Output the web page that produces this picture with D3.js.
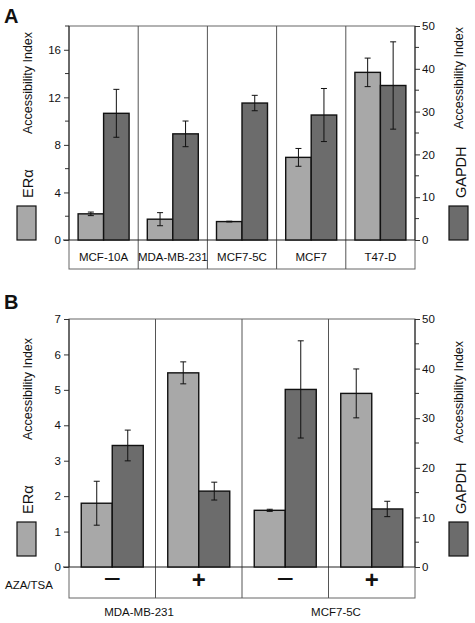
<!DOCTYPE html>
<html><head><meta charset="utf-8">
<script src="https://cdn.jsdelivr.net/npm/d3@7"></script>
<style>
body{margin:0;background:#fff;}
text{font-family:"Liberation Sans",Arial,Helvetica,sans-serif;fill:#111;}
</style></head>
<body><svg id="c" width="475" height="623"></svg>
<script>
// ---- Data ----
const seriesNames = ["ERα", "GAPDH"];
// Panel A
const catsA = ["MCF-10A", "MDA-MB-231", "MCF7-5C", "MCF7", "T47-D"];
const erA = [2.2, 1.75, 1.55, 6.95, 14.1];          // left axis
const erAErr = [0.15, 0.55, 0.03, 0.75, 1.2];
const gapA = [29.6, 24.8, 32.0, 29.2, 36.1];        // right axis
const gapAErr = [5.6, 3.0, 1.8, 6.2, 10.2];
const leftTicksA = [0, 4, 8, 12, 16];
const leftMinorA = [2, 6, 10, 14, 18];
const rightTicksA = [0, 10, 20, 30, 40, 50];
const rightMinorA = [5, 15, 25, 35, 45];
// Panel B
const catsB = ["MDA − ", "MDA + ", "5C − ", "5C + "];
const treatB = ["−", "+", "−", "+"];
const cellLinesB = ["MDA-MB-231", "MCF7-5C"];
const erB = [1.8, 5.48, 1.6, 4.9];
const erBErr = [0.62, 0.31, 0.03, 0.69];
const gapB = [24.5, 15.3, 35.8, 11.7];
const gapBErr = [3.1, 1.8, 9.8, 1.55];
const leftTicksB = [0, 1, 2, 3, 4, 5, 6, 7];
const rightTicksB = [0, 10, 20, 30, 40, 50];
const rightMinorB = [5, 15, 25, 35, 45];

const colors = {"ERα": "#a8a8a8", "GAPDH": "#6c6c6c"};
const svg = d3.select("#c");

function panel(o) {
  const g = svg.append("g");
  const x = d3.scaleBand().domain(o.cats).range([o.x0, o.x1]).padding(0);
  const xi = d3.scaleBand().domain(seriesNames).range([0, x.bandwidth()]).paddingInner(0).paddingOuter(o.pOuter);
  const yL = d3.scaleLinear().domain([0, o.leftMax]).range([o.y0, o.yTop]);
  const yR = d3.scaleLinear().domain([0, 50]).range([o.y0, o.yTop]);

  // box + dividers
  g.append("rect").attr("x", o.x0).attr("y", o.yTop).attr("width", o.x1 - o.x0).attr("height", o.yBot - o.yTop)
    .attr("fill", "none").attr("stroke", "#666").attr("stroke-width", 1);
  o.cats.slice(1).forEach(c => {
    g.append("line").attr("x1", x(c)).attr("x2", x(c)).attr("y1", o.yTop).attr("y2", o.yBot)
      .attr("stroke", "#555").attr("stroke-width", 1);
  });
  g.append("line").attr("x1", o.x0 - 6).attr("x2", o.x1).attr("y1", o.y0).attr("y2", o.y0).attr("stroke", "#222").attr("stroke-width", 1);

  // bars
  o.cats.forEach((c, i) => {
    const vals = [{s: "ERα", v: o.er[i], e: o.erErr[i], sc: yL}, {s: "GAPDH", v: o.gap[i], e: o.gapErr[i], sc: yR}];
    vals.forEach(d => {
      const bx = x(c) + xi(d.s);
      g.append("rect").attr("x", bx).attr("y", d.sc(d.v)).attr("width", xi.bandwidth()).attr("height", o.y0 - d.sc(d.v))
        .attr("fill", colors[d.s]).attr("stroke", "#111").attr("stroke-width", 1.4);
      const cx = bx + xi.bandwidth() / 2;
      const yt = d.sc(d.v + d.e), yb = d.sc(d.v - d.e);
      g.append("line").attr("x1", cx).attr("x2", cx).attr("y1", yt).attr("y2", yb).attr("stroke", "#111").attr("stroke-width", 1);
      [yt, yb].forEach(yy => g.append("line").attr("x1", cx - 3).attr("x2", cx + 3).attr("y1", yy).attr("y2", yy).attr("stroke", "#111").attr("stroke-width", 1));
    });
  });

  // left axis
  const la = g.append("g").attr("transform", `translate(${o.x0},0)`)
    .call(d3.axisLeft(yL).tickValues(o.leftTicks).tickFormat(d3.format("d")).tickSize(5).tickPadding(3).tickSizeOuter(0));
  la.select(".domain").remove();
  la.selectAll("text").style("font-size", "11.5px").attr("font-family", null);
  la.selectAll("line").attr("stroke", "#333");
  if (o.leftMinor) o.leftMinor.forEach(v => g.append("line").attr("x1", o.x0 - 4).attr("x2", o.x0).attr("y1", yL(v)).attr("y2", yL(v)).attr("stroke", "#333"));
  // right axis
  const ra = g.append("g").attr("transform", `translate(${o.x1},0)`)
    .call(d3.axisRight(yR).tickValues(o.rightTicks).tickFormat(d3.format("d")).tickSize(5).tickPadding(2).tickSizeOuter(0));
  ra.select(".domain").remove();
  ra.selectAll("text").style("font-size", "11.5px").attr("font-family", null);
  ra.selectAll("line").attr("stroke", "#333");
  o.rightMinor.forEach(v => g.append("line").attr("x1", o.x1).attr("x2", o.x1 + 4).attr("y1", yR(v)).attr("y2", yR(v)).attr("stroke", "#333"));
  g.append("line").attr("x1", o.x1).attr("x2", o.x1).attr("y1", o.yTop).attr("y2", o.y0).attr("stroke", "#222");
  g.append("line").attr("x1", o.x0).attr("x2", o.x0).attr("y1", o.yTop).attr("y2", o.y0).attr("stroke", "#222");

  // axis titles
  const t = (xx, yy, s, fs) => g.append("text").attr("transform", `translate(${xx},${yy}) rotate(-90)`)
    .attr("text-anchor", "middle").style("font-size", fs + "px").text(s);
  t(32, o.titleYL, "Accessibility Index", 12.5);
  t(463, o.titleYR, "Accessibility Index", 12.5);
  // legends
  g.append("rect").attr("x", 17).attr("y", o.swY).attr("width", 19).attr("height", 34).attr("fill", colors["ERα"]).attr("stroke", "#111").attr("stroke-width", 1.2);
  g.append("rect").attr("x", 449).attr("y", o.swY).attr("width", 19).attr("height", 34).attr("fill", colors["GAPDH"]).attr("stroke", "#111").attr("stroke-width", 1.2);
  g.append("text").attr("transform", `translate(33,${o.swY - 8}) rotate(-90)`).attr("text-anchor", "start").style("font-size", "14.5px").text("ERα");
  g.append("text").attr("transform", `translate(466,${o.swY - 8}) rotate(-90)`).attr("text-anchor", "start").style("font-size", "14.5px").text("GAPDH");
  // panel letter
  g.append("text").attr("x", 4).attr("y", o.letterY).style("font-size", "20px").style("font-weight", "bold").text(o.letter);
  return {g, x};
}

const A = panel({cats: catsA, x0: 69, x1: 415, yTop: 26, y0: 240, yBot: 269, pOuter: 0.357,
  leftMax: 18, er: erA, erErr: erAErr, gap: gapA, gapErr: gapAErr,
  leftTicks: leftTicksA, leftMinor: leftMinorA, rightTicks: rightTicksA, rightMinor: rightMinorA,
  titleYL: 83, titleYR: 78, swY: 206, letter: "A", letterY: 23});
catsA.forEach(c => A.g.append("text").attr("x", A.x(c) + A.x.bandwidth() / 2).attr("y", 261)
  .attr("text-anchor", "middle").style("font-size", "11.5px").text(c));

const B = panel({cats: catsB, x0: 69, x1: 415, yTop: 319, y0: 567, yBot: 598, pOuter: 0.395,
  leftMax: 7, er: erB, erErr: erBErr, gap: gapB, gapErr: gapBErr,
  leftTicks: leftTicksB, leftMinor: null, rightTicks: rightTicksB, rightMinor: rightMinorB,
  titleYL: 389, titleYR: 392, swY: 522, letter: "B", letterY: 309});
catsB.forEach((c, i) => {
  const plus = treatB[i] === "+";
  B.g.append("text").attr("x", B.x(c) + B.x.bandwidth() / 2).attr("y", plus ? 588 : 589)
    .attr("text-anchor", "middle").style("font-size", plus ? "24px" : "30px").style("font-weight", plus ? "bold" : "normal")
    .text(treatB[i]);
});
B.g.append("text").attr("x", 5).attr("y", 589).style("font-size", "11.5px").text("AZA/TSA");
B.g.append("text").attr("x", 139).attr("y", 616).attr("text-anchor", "middle").style("font-size", "11.5px").text(cellLinesB[0]);
B.g.append("text").attr("x", 336).attr("y", 616).attr("text-anchor", "middle").style("font-size", "11.5px").text(cellLinesB[1]);
</script></body></html>
